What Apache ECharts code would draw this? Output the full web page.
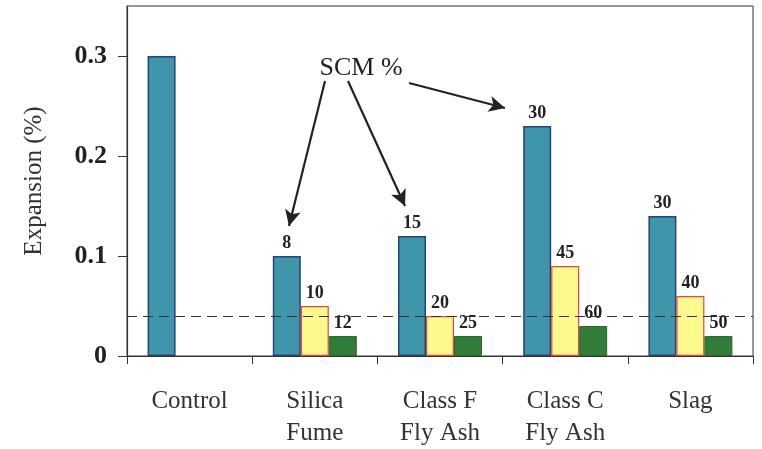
<!DOCTYPE html>
<html>
<head>
<meta charset="utf-8">
<script src="https://cdn.jsdelivr.net/npm/echarts@6/dist/echarts.min.js"></script>
<style>
html,body{margin:0;padding:0;background:#fff;}
#c{width:762px;height:449px;}
</style>
</head>
<body>
<div id="c"></div>
<script>
const categories = ['Control', 'Silica\nFume', 'Class F\nFly Ash', 'Class C\nFly Ash', 'Slag'];
const lowLevel = [0.30, 0.10, 0.12, 0.23, 0.14];
const midLevel = [null, 0.05, 0.04, 0.09, 0.06];
const highLevel = [null, 0.02, 0.02, 0.03, 0.02];
const lowPct = ['', '8', '15', '30', '30'];
const midPct = ['', '10', '20', '45', '40'];
const highPct = ['', '12', '25', '60', '50'];
const limitValue = 0.043;
const yTicks = [0, 0.1, 0.2, 0.3];

const serif = '"Liberation Serif", "Times New Roman", "DejaVu Serif", serif';

function lbl(arr) {
  return {
    show: true, position: 'top', distance: 4,
    fontFamily: serif, fontWeight: 'bold', fontSize: 18, color: '#222',
    formatter: p => arr[p.dataIndex]
  };
}

const chart = echarts.init(document.getElementById('c'));
chart.setOption({
  animation: false,
  backgroundColor: '#fff',
  grid: { left: 127, right: 9, top: 6, bottom: 90, show: true, borderColor: '#333', borderWidth: 1 },
  xAxis: {
    type: 'category', data: categories,
    axisLine: { lineStyle: { color: '#333', width: 1.2 } },
    axisTick: { show: true, inside: false, length: 8, lineStyle: { color: '#333' } },
    axisLabel: { fontFamily: serif, fontSize: 25, color: '#333', margin: 29, lineHeight: 32, interval: 0 }
  },
  yAxis: {
    type: 'value', min: 0, max: 0.35, interval: 0.05,
    name: 'Expansion (%)', nameLocation: 'middle', nameGap: 80,
    nameTextStyle: { fontFamily: serif, fontSize: 25, color: '#333' },
    splitLine: { show: false },
    axisLine: { show: true, lineStyle: { color: '#333', width: 1.2 } },
    axisTick: { show: true, inside: false, length: 9, lineStyle: { color: '#333' }, customValues: yTicks },
    axisLabel: {
      fontFamily: serif, fontWeight: 'bold', fontSize: 26, color: '#222', margin: 20,
      customValues: yTicks,
      formatter: function (v) { return String(Math.round(v * 100) / 100); }
    }
  },
  series: [
    {
      type: 'bar', data: lowLevel, barWidth: 28, barGap: '0%',
      itemStyle: { color: '#3f96ab', borderColor: '#25447e', borderWidth: 1.5 },
      label: lbl(lowPct),
      markLine: {
        silent: true, symbol: ['none', 'none'],
        label: { show: false },
        lineStyle: { color: '#333', type: [10, 6], width: 1.2 },
        data: [{ yAxis: limitValue }]
      }
    },
    {
      type: 'bar', data: midLevel, barWidth: 28, barGap: '0%',
      itemStyle: { color: '#fdf98c', borderColor: '#e8463c', borderWidth: 1.2 },
      label: lbl(midPct)
    },
    {
      type: 'bar', data: highLevel, barWidth: 28, barGap: '0%',
      itemStyle: { color: '#2f7d37', borderColor: '#2a6a30', borderWidth: 1 },
      label: lbl(highPct),
      markLine: {
        silent: true, symbol: ['none', 'arrow'], symbolSize: [12, 16],
        label: { show: false },
        lineStyle: { color: '#222', type: 'solid', width: 2.2 },
        data: [
          [{ x: 325, y: 81 }, { x: 289, y: 226 }],
          [{ x: 348, y: 81 }, { x: 405, y: 206 }],
          [{ x: 409, y: 83 }, { x: 505, y: 108 }]
        ]
      }
    }
  ],
  graphic: [
    {
      type: 'text', x: 361, y: 68,
      style: { text: 'SCM %', fontFamily: serif, fontSize: 26, fill: '#222', align: 'center', verticalAlign: 'middle' }
    }
  ]
});
</script>
</body>
</html>
